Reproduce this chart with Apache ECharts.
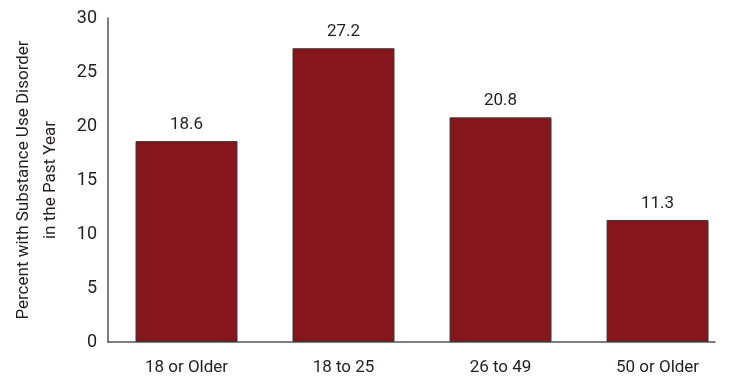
<!DOCTYPE html>
<html>
<head>
<meta charset="utf-8">
<script src="https://cdn.jsdelivr.net/npm/echarts@6/dist/echarts.min.js"></script>
<style>
  html, body { margin: 0; padding: 0; background: #fff; }
  #chart { width: 738px; height: 377px; }
</style>
</head>
<body>
<div id="chart"></div>
<script>
const categories = ['18 or Older', '18 to 25', '26 to 49', '50 or Older'];
const percentValues = [18.6, 27.2, 20.8, 11.3];
const yTicks = [0, 5, 10, 15, 20, 25, 30];

const font = 'Roboto, sans-serif';
const textColor = '#231f20';

// x is a value axis so the baseline can stop short of the right edge like the original
const barData = percentValues.map((v, i) => [i, v]);

const myChart = echarts.init(document.getElementById('chart'));
myChart.setOption({
  animation: false,
  grid: { left: 108, right: 23, top: 18, bottom: 35 },
  xAxis: {
    type: 'value',
    min: -0.5,
    max: 3.366,
    splitLine: { show: false },
    axisTick: { show: false },
    axisLine: { show: true, onZero: false, lineStyle: { color: '#555', width: 1.5 } },
    axisLabel: {
      customValues: [0, 1, 2, 3],
      margin: 17,
      fontFamily: font,
      fontSize: 17,
      color: textColor,
      formatter: function (value) {
        return categories[Math.round(value)];
      }
    }
  },
  yAxis: {
    type: 'value',
    min: yTicks[0],
    max: yTicks[yTicks.length - 1],
    interval: 5,
    splitLine: { show: false },
    axisTick: { show: false },
    axisLine: { show: true, onZero: false, lineStyle: { color: '#555', width: 1.5 } },
    axisLabel: { margin: 11, fontFamily: font, fontSize: 18, color: textColor },
    name: 'Percent with Substance Use Disorder\nin the Past Year',
    nameLocation: 'middle',
    nameGap: 44,
    nameTextStyle: { fontFamily: font, fontSize: 17, lineHeight: 27, color: textColor }
  },
  series: [
    {
      type: 'bar',
      data: barData,
      barWidth: 102,
      itemStyle: { color: '#85161b', borderColor: '#3a3a3a', borderWidth: 1 },
      label: {
        show: true,
        position: 'top',
        distance: 8,
        fontFamily: font,
        fontSize: 17,
        color: textColor,
        formatter: function (p) { return p.value[1].toFixed(1); }
      }
    }
  ]
});
</script>
</body>
</html>
